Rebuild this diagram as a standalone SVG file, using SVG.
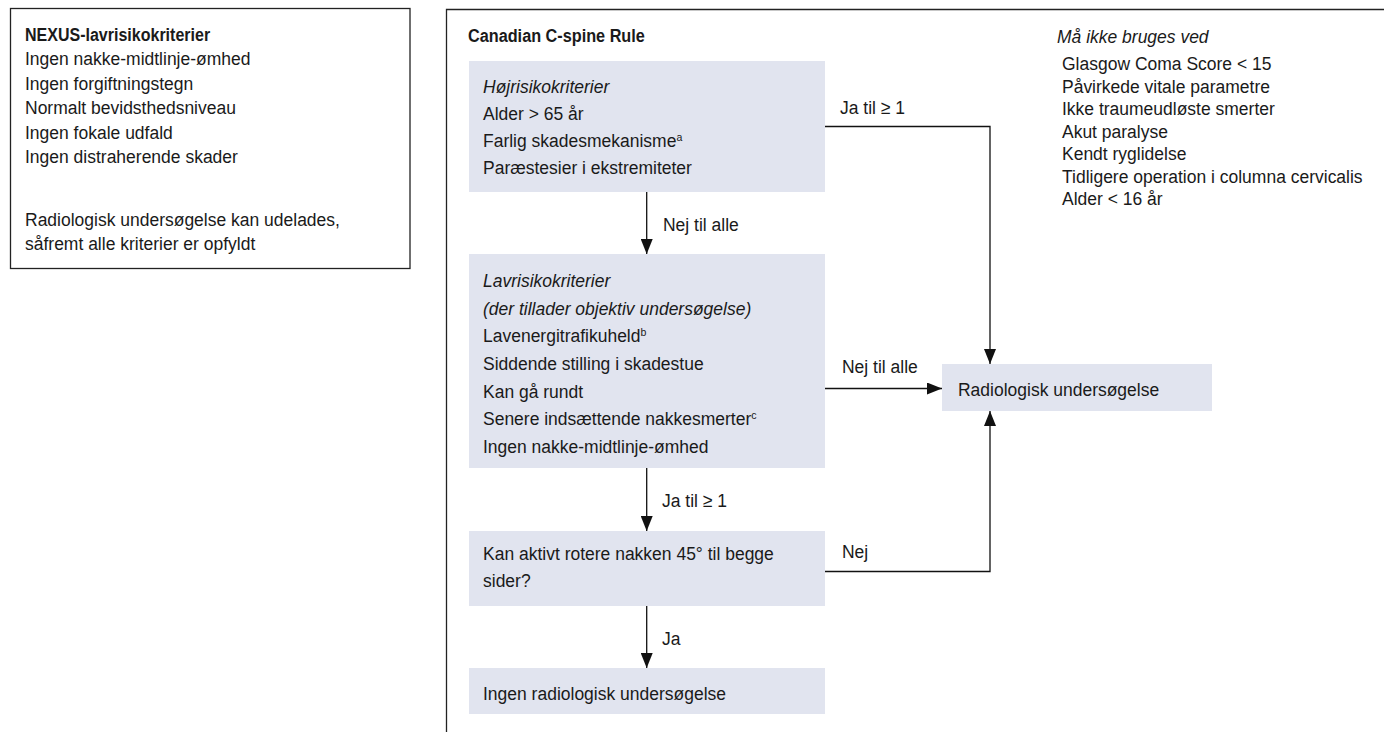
<svg xmlns="http://www.w3.org/2000/svg" width="1384" height="732" viewBox="0 0 1384 732">
  <style>
    /* narrow, tall lettering: 19px face squeezed horizontally about each line's start */
    text { font-family: "Liberation Sans", Arial, sans-serif; font-size: 19px; fill: #1a1a1a;
           transform-box: fill-box; transform-origin: 0% 50%; transform: scaleX(0.921); }
    .b { font-weight: bold; }
    .i { font-style: italic; }
    .sup { font-size: 11.5px; }
    .box { fill: #e1e4ef; }
    .frame { fill: none; stroke: #222; stroke-width: 1.3; }
    .wire { fill: none; stroke: #111; stroke-width: 1.3; }
  </style>
  <defs>
    <marker id="arrow" viewBox="0 0 15 12" refX="15" refY="6" markerWidth="15" markerHeight="12" markerUnits="userSpaceOnUse" orient="auto">
      <path d="M0,0 L15,6 L0,12 z" fill="#111"/>
    </marker>
  </defs>
  <rect width="1384" height="732" fill="#ffffff"/>

  <!-- NEXUS panel -->
  <g id="nexus">
    <rect class="frame" x="10.5" y="8.5" width="399.5" height="260"/>
    <text class="b" x="25" y="41" textLength="201" lengthAdjust="spacingAndGlyphs">NEXUS-lavrisikokriterier</text>
    <text x="25" y="65.5">Ingen nakke-midtlinje-ømhed</text>
    <text x="25" y="90">Ingen forgiftningstegn</text>
    <text x="25" y="114.5">Normalt bevidsthedsniveau</text>
    <text x="25" y="139">Ingen fokale udfald</text>
    <text x="25" y="163.5">Ingen distraherende skader</text>
    <text x="25" y="226">Radiologisk undersøgelse kan udelades,</text>
    <text x="25" y="250">såfremt alle kriterier er opfyldt</text>
  </g>

  <!-- Canadian C-spine Rule panel (open frame: top and left edges) -->
  <g id="ccr-panel">
    <path class="frame" d="M446.5,732 V9.5 H1384"/>
    <text class="b" x="468" y="42" textLength="192" lengthAdjust="spacingAndGlyphs">Canadian C-spine Rule</text>
  </g>

  <g id="exclusions">
    <text class="i" x="1057" y="43">Må ikke bruges ved</text>
    <text x="1062" y="70.5">Glasgow Coma Score &lt; 15</text>
    <text x="1062" y="93">Påvirkede vitale parametre</text>
    <text x="1062" y="115.5">Ikke traumeudløste smerter</text>
    <text x="1062" y="138">Akut paralyse</text>
    <text x="1062" y="160.5">Kendt ryglidelse</text>
    <text x="1062" y="183">Tidligere operation i columna cervicalis</text>
    <text x="1062" y="205.5">Alder &lt; 16 år</text>
  </g>

  <g id="high-risk">
    <rect class="box" x="469" y="61" width="356" height="131"/>
    <text class="i" x="483" y="93">Højrisikokriterier</text>
    <text x="483" y="120">Alder &gt; 65 år</text>
    <text x="483" y="147">Farlig skadesmekanisme<tspan class="sup" dy="-6">a</tspan></text>
    <text x="483" y="174">Paræstesier i ekstremiteter</text>
  </g>

  <g id="low-risk">
    <rect class="box" x="469" y="254" width="356" height="214"/>
    <text class="i" x="483" y="287">Lavrisikokriterier</text>
    <text class="i" x="483" y="314.7">(der tillader objektiv undersøgelse)</text>
    <text x="483" y="342.4">Lavenergitrafikuheld<tspan class="sup" dy="-6">b</tspan></text>
    <text x="483" y="370.1">Siddende stilling i skadestue</text>
    <text x="483" y="397.8">Kan gå rundt</text>
    <text x="483" y="425.5">Senere indsættende nakkesmerter<tspan class="sup" dy="-6">c</tspan></text>
    <text x="483" y="453.2">Ingen nakke-midtlinje-ømhed</text>
  </g>

  <g id="rotation">
    <rect class="box" x="469" y="531" width="356" height="75"/>
    <text x="483" y="560">Kan aktivt rotere nakken 45° til begge</text>
    <text x="483" y="587.5">sider?</text>
  </g>

  <g id="no-imaging">
    <rect class="box" x="469" y="668" width="356" height="46"/>
    <text x="483" y="700">Ingen radiologisk undersøgelse</text>
  </g>

  <g id="imaging">
    <rect class="box" x="942" y="364" width="270" height="47"/>
    <text x="958" y="396">Radiologisk undersøgelse</text>
  </g>

  <g id="connectors">
    <path class="wire" d="M646.7,192 V254" marker-end="url(#arrow)"/>
    <text x="663" y="231">Nej til alle</text>

    <path class="wire" d="M825,126.5 H990 V364" marker-end="url(#arrow)"/>
    <text x="840" y="114">Ja til ≥ 1</text>

    <path class="wire" d="M825,388.5 H942" marker-end="url(#arrow)"/>
    <text x="842" y="373">Nej til alle</text>

    <path class="wire" d="M646.7,468 V531" marker-end="url(#arrow)"/>
    <text x="662" y="507">Ja til ≥ 1</text>

    <path class="wire" d="M825,571.5 H990 V411" marker-end="url(#arrow)"/>
    <text x="842" y="558">Nej</text>

    <path class="wire" d="M646.7,606 V668" marker-end="url(#arrow)"/>
    <text x="662" y="645">Ja</text>
  </g>
</svg>
